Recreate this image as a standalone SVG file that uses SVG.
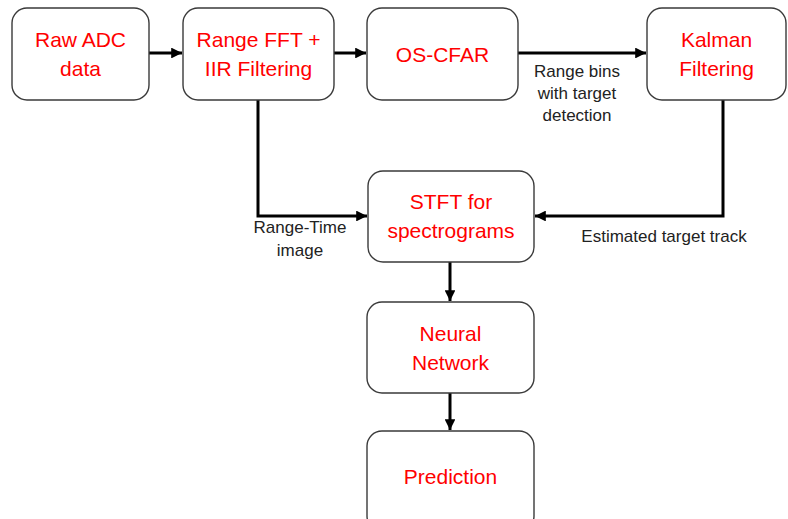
<svg xmlns="http://www.w3.org/2000/svg" width="788" height="519" viewBox="0 0 788 519">
  <defs>
    <marker id="arrow" viewBox="0 0 10 10" refX="10" refY="5" markerWidth="3.6" markerHeight="3.6" orient="auto" markerUnits="strokeWidth">
      <path d="M0,0 L10,5 L0,10 z" fill="#000"/>
    </marker>
    <style>
      .box { fill: #fff; stroke: #3a3a3a; stroke-width: 1.4; }
      .title { font-family: "Liberation Sans", Arial, sans-serif; font-size: 21px; fill: #ff0000; text-anchor: middle; }
      .label { font-family: "Liberation Sans", Arial, sans-serif; font-size: 17px; fill: #222; text-anchor: middle; }
      .wire { fill: none; stroke: #000; stroke-width: 3; marker-end: url(#arrow); }
    </style>
  </defs>

  <rect width="788" height="519" fill="#fff"/>

  <g id="connectors">
    <path class="wire" d="M149,53 H182"/>
    <path class="wire" d="M334,53 H366"/>
    <path class="wire" d="M518,53 H646"/>
    <path class="wire" d="M258,100 V216 H367"/>
    <path class="wire" d="M723,100 V216 H535"/>
    <path class="wire" d="M450,262 V301"/>
    <path class="wire" d="M450,393 V430"/>
    <text class="label" x="577" y="77">Range bins</text>
    <text class="label" x="577" y="99">with target</text>
    <text class="label" x="577" y="121">detection</text>
    <text class="label" x="300" y="233">Range-Time</text>
    <text class="label" x="300" y="256">image</text>
    <text class="label" x="664" y="242">Estimated target track</text>
  </g>

  <g id="raw-adc">
    <rect class="box" x="12" y="8" width="137" height="92" rx="15"/>
    <text class="title" x="80.5" y="47">Raw ADC</text>
    <text class="title" x="80.5" y="76">data</text>
  </g>

  <g id="range-fft">
    <rect class="box" x="183" y="8" width="151" height="92" rx="15"/>
    <text class="title" x="258.5" y="47">Range FFT +</text>
    <text class="title" x="258.5" y="76">IIR Filtering</text>
  </g>

  <g id="os-cfar">
    <rect class="box" x="367" y="8" width="151" height="92" rx="15"/>
    <text class="title" x="442.5" y="62">OS-CFAR</text>
  </g>

  <g id="kalman">
    <rect class="box" x="647" y="8" width="139" height="92" rx="15"/>
    <text class="title" x="716.5" y="47">Kalman</text>
    <text class="title" x="716.5" y="76">Filtering</text>
  </g>

  <g id="stft">
    <rect class="box" x="368" y="171" width="166" height="91" rx="15"/>
    <text class="title" x="451" y="209">STFT for</text>
    <text class="title" x="451" y="238">spectrograms</text>
  </g>

  <g id="neural-network">
    <rect class="box" x="367" y="302" width="167" height="91" rx="15"/>
    <text class="title" x="450.5" y="341">Neural</text>
    <text class="title" x="450.5" y="370">Network</text>
  </g>

  <g id="prediction">
    <rect class="box" x="367" y="431" width="167" height="100" rx="15"/>
    <text class="title" x="450.5" y="484">Prediction</text>
  </g>
</svg>
